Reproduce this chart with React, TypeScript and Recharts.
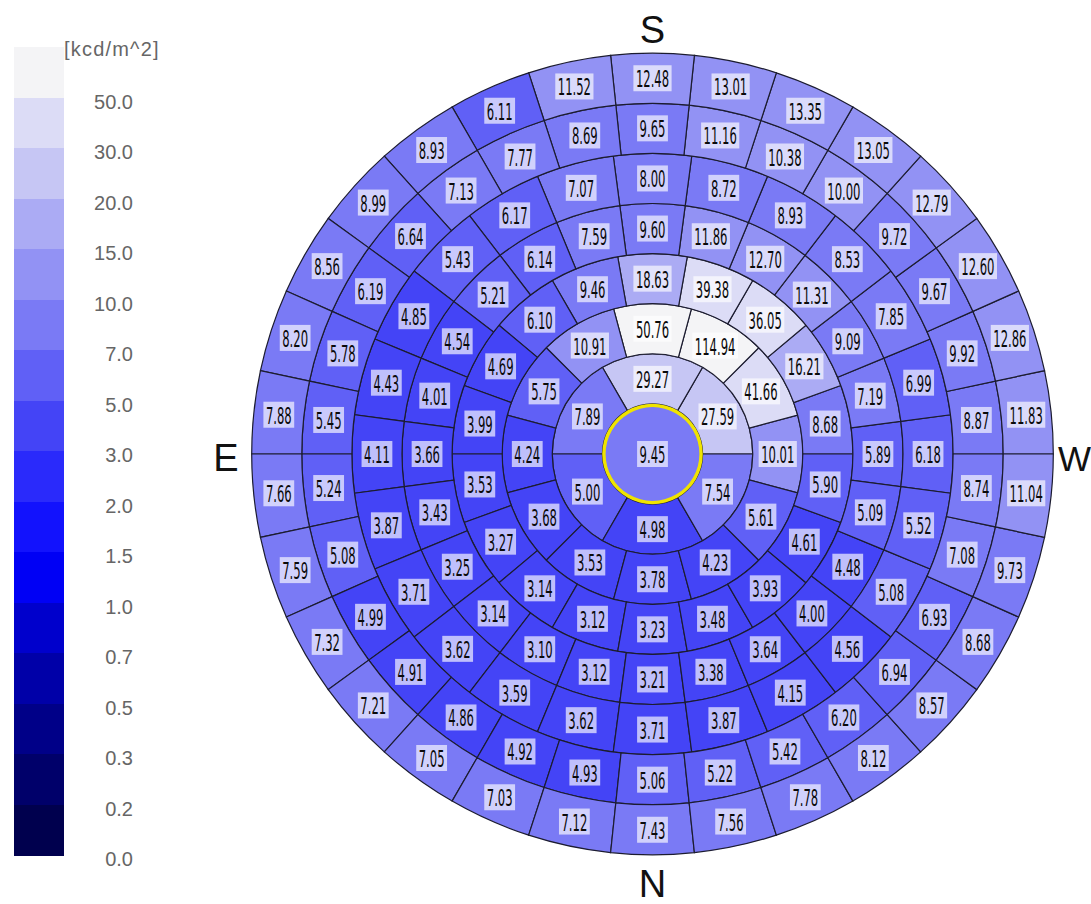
import React from 'react';
import { PieChart, Pie, Cell } from 'recharts';

// ---- data (kcd/m^2) ----
const zenithValues = [9.45];
// ring 1 (6 patches, centred at 30°, 90°, ... counter-clockwise from W)
const ring1Values = [27.59, 29.27, 7.89, 5.0, 4.98, 7.54];
// ring 2 (12 patches, centred at 0°, 30°, ...)
const ring2Values = [10.01, 41.66, 114.94, 50.76, 10.91, 5.75, 4.24, 3.68, 3.53, 3.78, 4.23, 5.61];
// ring 3 (18 patches, centred at 10°, 30°, ...)
const ring3Values = [8.68, 16.21, 36.05, 39.38, 18.63, 9.46, 6.1, 4.69, 3.99, 3.53, 3.27, 3.14, 3.12, 3.23, 3.48, 3.93, 4.61, 5.9];
// ring 4 (24 patches, centred at 0°, 15°, ...)
const ring4Values = [5.89, 7.19, 9.09, 11.31, 12.7, 11.86, 9.6, 7.59, 6.14, 5.21, 4.54, 4.01, 3.66, 3.43, 3.25, 3.14, 3.1, 3.12, 3.21, 3.38, 3.64, 4.0, 4.48, 5.09];
// ring 5 (24 patches, centred at 0°, 15°, ...)
const ring5Values = [6.18, 6.99, 7.85, 8.53, 8.93, 8.72, 8.0, 7.07, 6.17, 5.43, 4.85, 4.43, 4.11, 3.87, 3.71, 3.62, 3.59, 3.62, 3.71, 3.87, 4.15, 4.56, 5.08, 5.52];
// ring 6 (30 patches, centred at 6°, 18°, ...)
const ring6Values = [8.87, 9.92, 9.67, 9.72, 10.0, 10.38, 11.16, 9.65, 8.69, 7.77, 7.13, 6.64, 6.19, 5.78, 5.45, 5.24, 5.08, 4.99, 4.91, 4.86, 4.92, 4.93, 5.06, 5.22, 5.42, 6.2, 6.94, 6.93, 7.08, 8.74];
// ring 7 (30 patches, centred at 6°, 18°, ...)
const ring7Values = [11.83, 12.86, 12.6, 12.79, 13.05, 13.35, 13.01, 12.48, 11.52, 6.11, 8.93, 8.99, 8.56, 8.2, 7.88, 7.66, 7.59, 7.32, 7.21, 7.05, 7.03, 7.12, 7.43, 7.56, 7.78, 8.12, 8.57, 8.68, 9.73, 11.04];

const ringStartAngles = [0, -15, 0, -7.5, -7.5, 0, 0];

// colour scale
const bandLimits = [0, 0.2, 0.3, 0.5, 0.7, 1.0, 1.5, 2.0, 3.0, 5.0, 7.0, 10.0, 15.0, 20.0, 30.0, 50.0];
const bandColors = [
  '#00004e', '#00006a', '#000088', '#0000a8', '#0000cc', '#0000f5', '#1212fd', '#2a2afb',
  '#4444f6', '#6060f6', '#7a7af5', '#9292f4', '#ababf4', '#c6c6f4', '#dcdcf6', '#f4f4f6',
];
const legendTickLabels = ['50.0', '30.0', '20.0', '15.0', '10.0', '7.0', '5.0', '3.0', '2.0', '1.5', '1.0', '0.7', '0.5', '0.3', '0.2', '0.0'];
const unitLabel = '[kcd/m^2]';
const compassLabels = ['S', 'N', 'E', 'W'];

const CX = 652.5;
const CY = 454;
const STEP = 50.1;
const RAD = Math.PI / 180;

function colorFor(v: number): string {
  let c = bandColors[0];
  for (let i = 0; i < bandLimits.length; i++) {
    if (v >= bandLimits[i]) c = bandColors[i];
  }
  return c;
}

function textWidth(s: string): number {
  let w = 0;
  for (const ch of s) w += ch === '.' ? 3.6 : 7.4;
  return w;
}

const renderLabel = (props: any) => {
  const { cx, cy, midAngle, innerRadius, outerRadius } = props;
  const v = props.payload && props.payload.v !== undefined ? props.payload.v : props.v;
  const txt = Number(v).toFixed(2);
  let x = cx;
  let y = cy;
  if (innerRadius > 0) {
    const r = (innerRadius + outerRadius) / 2;
    x = cx + r * Math.cos(-midAngle * RAD);
    y = cy + r * Math.sin(-midAngle * RAD);
  }
  const tw = textWidth(txt);
  return (
    <g key={`lbl-${props.index}-${innerRadius}`}>
      <rect x={x - tw / 2 - 2.5} y={y - 13} width={tw + 5} height={26} fill="#ffffff" fillOpacity={0.66} />
      <text
        x={x}
        y={y + 1}
        textAnchor="middle"
        dominantBaseline="central"
        fontFamily="'DejaVu Sans Condensed', 'Liberation Sans Narrow', 'Liberation Sans', sans-serif"
        fontSize={23}
        fill="#0a0a0a"
        textLength={tw}
        lengthAdjust="spacingAndGlyphs"
      >
        {txt}
      </text>
    </g>
  );
};

const allRings = [ring1Values, ring2Values, ring3Values, ring4Values, ring5Values, ring6Values, ring7Values];

export default function App() {
  const legendTop = 47;
  const bandH = 50.5;
  const legendColors = [...bandColors].reverse();
  return (
    <div style={{ position: 'absolute', left: 0, top: 0, width: 1091, height: 904, background: '#fff', overflow: 'hidden', fontFamily: "'Liberation Sans', Arial, sans-serif" }}>
      {/* colour bar */}
      {legendColors.map((c, i) => (
        <div key={`band-${i}`} style={{ position: 'absolute', left: 14, top: legendTop + i * bandH, width: 50, height: bandH + 0.5, background: c }} />
      ))}
      <div style={{ position: 'absolute', left: 64, top: legendTop - 9, fontSize: 20, color: '#666', whiteSpace: 'nowrap', letterSpacing: 1.2 }}>{unitLabel}</div>
      {legendTickLabels.map((t, i) => (
        <div key={`tick-${i}`} style={{ position: 'absolute', right: 1091 - 133, top: legendTop + (i + 1) * bandH - 8, fontSize: 20, color: '#666', lineHeight: '24px', textAlign: 'right', whiteSpace: 'nowrap' }}>{t}</div>
      ))}
      {/* compass letters */}
      <div style={{ position: 'absolute', left: CX - 30, width: 60, textAlign: 'center', top: 8, fontSize: 38, lineHeight: '44px', color: '#111' }}>{compassLabels[0]}</div>
      <div style={{ position: 'absolute', left: CX - 30, width: 60, textAlign: 'center', top: 862, fontSize: 38, lineHeight: '44px', color: '#111' }}>{compassLabels[1]}</div>
      <div style={{ position: 'absolute', left: 196, width: 60, textAlign: 'center', top: 436, fontSize: 38, lineHeight: '44px', color: '#111' }}>{compassLabels[2]}</div>
      <div style={{ position: 'absolute', left: 1058, top: 437, fontSize: 35, lineHeight: '44px', color: '#111' }}>{compassLabels[3]}</div>

      <div style={{ position: 'absolute', left: 0, top: 0 }}>
        <PieChart width={1091} height={904} margin={{ top: 0, right: 0, bottom: 0, left: 0 }}>
          <Pie
            data={zenithValues.map((v, i) => ({ name: `z${i}`, value: 1, v }))}
            dataKey="value"
            cx={CX}
            cy={CY}
            innerRadius={0}
            outerRadius={STEP}
            startAngle={90}
            endAngle={450}
            stroke="none"
            isAnimationActive={false}
            label={renderLabel}
            labelLine={false}
          >
            {zenithValues.map((v, i) => (
              <Cell key={`z-${i}`} fill={colorFor(v)} stroke={colorFor(v)} />
            ))}
          </Pie>
          {allRings.map((vals, ri) => {
            const start = ringStartAngles[ri];
            return (
              <Pie
                key={`ring-${ri}`}
                data={vals.map((v, i) => ({ name: `r${ri}-${i}`, value: 1, v }))}
                dataKey="value"
                cx={CX}
                cy={CY}
                innerRadius={STEP * (ri + 1)}
                outerRadius={STEP * (ri + 2)}
                startAngle={start}
                endAngle={start + 360}
                paddingAngle={0}
                stroke="#1c1c30"
                strokeWidth={1.2}
                isAnimationActive={false}
                label={renderLabel}
                labelLine={false}
              >
                {vals.map((v, i) => (
                  <Cell key={`c-${ri}-${i}`} fill={colorFor(v)} stroke="#1c1c30" strokeWidth={1.2} />
                ))}
              </Pie>
            );
          })}
          <Pie
            data={[{ name: 'sun', value: 1 }]}
            dataKey="value"
            cx={CX}
            cy={CY}
            innerRadius={STEP - 3.2}
            outerRadius={STEP + 0.2}
            startAngle={90}
            endAngle={450}
            fill="#f0e400"
            stroke="none"
            isAnimationActive={false}
            label={false}
            labelLine={false}
          />
        </PieChart>
      </div>
    </div>
  );
}
